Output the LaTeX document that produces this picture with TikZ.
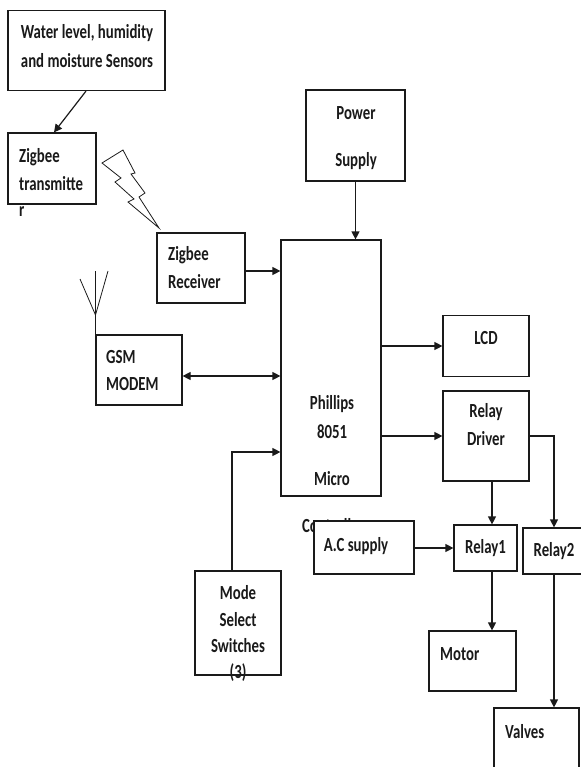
\documentclass[tikz,border=0pt]{standalone}
\usepackage{fontspec}
\setmainfont{Carlito}[FakeStretch=0.74]
\usetikzlibrary{arrows.meta,positioning}
\definecolor{inkline}{HTML}{1A1A1A}
\tikzset{
  blockbox/.style={
    rectangle, draw=inkline, fill=white, line width=1.2pt,
    inner sep=0pt, text=inkline, font=\fontsize{20}{24}\selectfont\bfseries, align=center
  },
  blocktext/.style={
    inner sep=0pt, text=inkline, font=\fontsize{20}{24}\selectfont\bfseries
  },
  dataarrow/.style={
    -{Triangle[length=8pt,width=8pt]}, line width=1.2pt, color=inkline
  },
  dualarrow/.style={
    {Triangle[length=8pt,width=8pt]}-{Triangle[length=8pt,width=8pt]}, line width=1.2pt, color=inkline
  },
  thinline/.style={line width=0.8pt, color=inkline},
}
\begin{document}
\begin{tikzpicture}[x=1pt, y=-1pt]
  \useasboundingbox (0,0) rectangle (580,767);
  % left column
  \node[blockbox, minimum width=157pt, minimum height=80pt] at (86.5,50.5) (sensors) {};
  \node[blocktext] at (87,33) (sensorsa) {Water level, humidity};
  \node[blocktext] at (87,61) (sensorsb) {and moisture Sensors};
  \node[blockbox, minimum width=88pt, minimum height=71pt] at (52,168.5) (transmitter) {};
  \node[blocktext, anchor=west] at (19,157) (transmittera) {Zigbee};
  \node[blocktext, anchor=west] at (19,184) (transmitterb) {transmitte};
  \node[blocktext, anchor=west] at (19,212) (transmitterc) {r};
  \node[blockbox, minimum width=88pt, minimum height=70pt] at (201,268) (receiver) {};
  \node[blocktext, anchor=west] at (168,255) (receivera) {Zigbee};
  \node[blocktext, anchor=west] at (168,282) (receiverb) {Receiver};
  \node[blockbox, minimum width=86pt, minimum height=70pt] at (139,370) (gsm) {};
  \node[blocktext, anchor=west] at (106,357) (gsma) {GSM};
  \node[blocktext, anchor=west] at (106,384) (gsmb) {MODEM};
  \node[blockbox, minimum width=86pt, minimum height=104pt] at (238,623) (mode) {};
  % controller
  \node[blockbox, minimum width=100pt, minimum height=256pt] at (331,368) (micro) {};
  \node[blocktext] at (332,404) (microa) {Phillips};
  \node[blocktext] at (332,432) (microb) {8051};
  \node[blocktext] at (332,479) (microc) {Micro};
  \node[blocktext] at (333,526) (microd) {Controller};
  \node[blockbox, minimum width=99pt, minimum height=91pt] at (355.5,135.5) (power) {};
  \node[blocktext] at (356,113) (powera) {Power};
  \node[blocktext] at (356,161) (powerb) {Supply};
  % right column
  \node[blockbox, minimum width=86pt, minimum height=61pt] at (486,346) (lcd) {};
  \node[blocktext] at (486,338) (lcdtext) {LCD};
  \node[blockbox, minimum width=86pt, minimum height=90pt] at (486,436) (driver) {};
  \node[blocktext] at (486,412) (drivera) {Relay};
  \node[blocktext] at (486,439) (driverb) {Driver};
  \node[blockbox, minimum width=100pt, minimum height=53pt] at (364,547.5) (acsupply) {};
  \node[blocktext] at (356,546) (actext) {A.C supply};
  \node[blockbox, minimum width=63pt, minimum height=46pt] at (485.5,548) (relaya) {Relay1};
  \node[blockbox, minimum width=62pt, minimum height=46pt] at (554,551) (relayb) {Relay2};
  \node[blockbox, minimum width=87pt, minimum height=60pt] at (472.5,661) (motor) {};
  \node[blocktext, anchor=west] at (440,654) (motortext) {Motor};
  \node[blockbox, minimum width=85pt, minimum height=62pt] at (536.5,739) (valves) {};
  \node[blocktext, anchor=west] at (505,732) (valvestext) {Valves};
  \node[blocktext] at (238,593) (modea) {Mode};
  \node[blocktext] at (238,620) (modeb) {Select};
  \node[blocktext] at (238,646) (modec) {Switches};
  \node[blocktext] at (238,673) (moded) {(3)};
  % connectors
  \draw[dataarrow] (sensors.south -| 86,0) -- (transmitter.north -| 54,0);
  \draw[dataarrow] (power.south) -- (micro.north -| power.south);
  \draw[dataarrow] (receiver.east |- 0,271) -- (micro.west |- 0,271);
  \draw[dualarrow] (gsm.east |- 0,376) -- (micro.west |- 0,376);
  \draw[dataarrow] (mode.north -| 232,0) |- (micro.west |- 0,452);
  \draw[dataarrow] (micro.east |- lcd.west) -- (lcd.west);
  \draw[dataarrow] (micro.east |- driver.west) -- (driver.west);
  \draw[dataarrow] (driver.south -| 492,0) -- (relaya.north -| 492,0);
  \draw[dataarrow] (driver.east) -| (relayb.north);
  \draw[dataarrow] (acsupply.east |- relaya.west) -- (relaya.west);
  \draw[dataarrow] (relaya.south -| 492,0) -- (motor.north -| 492,0);
  \draw[dataarrow] (relayb.south) -- (valves.north -| relayb.south);
  % antenna and radio link
  \coordinate (antennafoot) at (95.5,315);
  \draw[thinline] (gsm.north west) -- (95.5,271);
  \draw[thinline] (80,279) -- (antennafoot) -- (108,271);
  \draw[thinline] (102,163) -- (123,150) -- (135,173) -- (131,174) -- (145,193) -- (139,197) -- (159,228) -- (128,202) -- (134,199) -- (115,182) -- (121,178) -- cycle;
\end{tikzpicture}
\end{document}
